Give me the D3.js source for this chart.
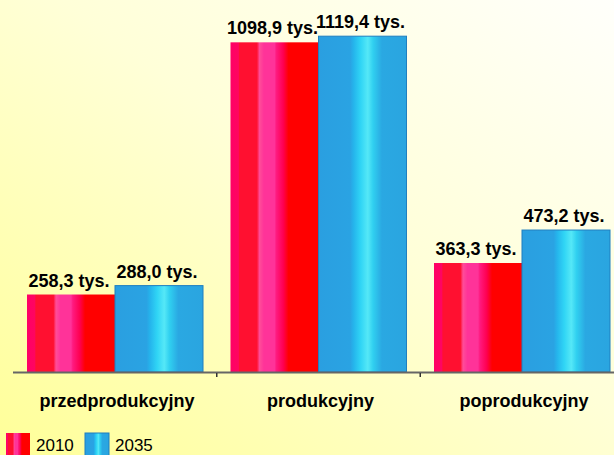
<!DOCTYPE html>
<html><head><meta charset="utf-8">
<script src="https://cdn.jsdelivr.net/npm/d3@7"></script>
<style>html,body{margin:0;padding:0;overflow:hidden;}svg{display:block;font-family:"Liberation Sans",Arial,sans-serif;}</style>
</head><body>
<script>
const categories = ["przedprodukcyjny", "produkcyjny", "poprodukcyjny"];
const series = ["2010", "2035"];
const values2010 = [258.3, 1098.9, 363.3];
const values2035 = [288.0, 1119.4, 473.2];
const valueLabels2010 = ["258,3 tys.", "1098,9 tys.", "363,3 tys."];
const valueLabels2035 = ["288,0 tys.", "1119,4 tys.", "473,2 tys."];

const W = 614, H = 455;
const svg = d3.select("body").append("svg").attr("width", W).attr("height", H);
const defs = svg.append("defs");

const bg = defs.append("linearGradient").attr("id", "bg").attr("x1", 1).attr("y1", 0).attr("x2", 0).attr("y2", 1);
[[0, "#fffffb"], [0.45, "#ffffd8"], [1, "#ffff98"]].forEach(s => bg.append("stop").attr("offset", s[0]).attr("stop-color", s[1]));
svg.append("rect").attr("width", W).attr("height", H).attr("fill", "url(#bg)");

const redStops = [[0, "#ff0066"], [0.09, "#ff0560"], [0.1, "#ff1030"], [0.3, "#ff1030"], [0.33, "#ff4d99"], [0.38, "#ff3399"], [0.5, "#ff3399"], [0.52, "#ff1a80"], [0.6, "#ff0050"], [0.66, "#ff0000"], [1, "#ff0000"]];
const blueStops = [[0, "#2a9fe0"], [0.36, "#2aa3e3"], [0.4, "#25b5ec"], [0.48, "#30d5f5"], [0.56, "#55e8f7"], [0.62, "#30d0f0"], [0.72, "#2aa8e2"], [1, "#2aa5e0"]];
function grad(id, stops) {
  const g = defs.append("linearGradient").attr("id", id).attr("x1", 0).attr("y1", 0).attr("x2", 1).attr("y2", 0);
  stops.forEach(s => g.append("stop").attr("offset", s[0]).attr("stop-color", s[1]));
}
grad("gred", redStops);
grad("gblue", blueStops);
const fills = {"2010": "url(#gred)", "2035": "url(#gblue)"};
const strokes = {"2010": "none", "2035": "#1f7fc0"};

const x0 = d3.scaleBand().domain(categories).range([13.25, 623.75]).padding(0);
const bw = x0.bandwidth();
const x1 = d3.scaleBand().domain(series).range([(bw - 176) / 2, (bw + 176) / 2]).padding(0);
const y = d3.scaleLinear().domain([0, 1200]).range([372, 12]);

const data = categories.map((c, i) => ({
  cat: c,
  vals: [
    {s: "2010", v: values2010[i], lab: valueLabels2010[i]},
    {s: "2035", v: values2035[i], lab: valueLabels2035[i]}
  ]
}));

const g = svg.selectAll("g.cat").data(data).enter().append("g")
  .attr("transform", d => `translate(${x0(d.cat)},0)`);
g.selectAll("rect").data(d => d.vals).enter().append("rect")
  .attr("x", d => x1(d.s))
  .attr("width", x1.bandwidth())
  .attr("y", d => y(d.v))
  .attr("height", d => y(0) - y(d.v))
  .attr("fill", d => fills[d.s])
  .attr("stroke", d => strokes[d.s])
  .attr("stroke-width", 1);
g.selectAll("text.val").data(d => d.vals).enter().append("text")
  .attr("class", "val")
  .attr("x", d => x1(d.s) + x1.bandwidth() / 2 - 2)
  .attr("y", d => y(d.v) - 8)
  .attr("text-anchor", "middle")
  .attr("font-weight", "bold").attr("font-size", 18).attr("fill", "#000")
  .text(d => d.lab);

// axis
const axis = svg.append("g").attr("transform", `translate(0,${y(0)})`)
  .call(d3.axisBottom(x0).tickSize(0).tickFormat(""));
axis.select(".domain").remove();
axis.append("line").attr("x1", 13).attr("x2", W).attr("y1", 0.5).attr("y2", 0.5).attr("stroke", "#666").attr("stroke-width", 2);
const bounds = categories.slice(1).map(c => x0(c));
axis.selectAll("line.tk").data(bounds).enter().append("line").attr("class", "tk")
  .attr("x1", d => d).attr("x2", d => d).attr("y1", 1).attr("y2", 5).attr("stroke", "#333").attr("stroke-width", 1.5);

svg.selectAll("text.cat").data(categories).enter().append("text")
  .attr("class", "cat")
  .attr("x", d => x0(d) + bw / 2 + 2)
  .attr("y", 407)
  .attr("text-anchor", "middle")
  .attr("font-weight", "bold").attr("font-size", 18).attr("fill", "#000")
  .text(d => d);

// legend
const legX = [6, 85];
const leg = svg.selectAll("g.leg").data(series).enter().append("g")
  .attr("transform", (d, i) => `translate(${legX[i]},433)`);
leg.append("rect").attr("width", 24).attr("height", 23).attr("fill", d => fills[d]).attr("stroke", d => strokes[d]);
leg.append("text").attr("x", 30).attr("y", 17.5).attr("font-size", 17).attr("fill", "#000").text(d => d);
</script>
</body></html>
